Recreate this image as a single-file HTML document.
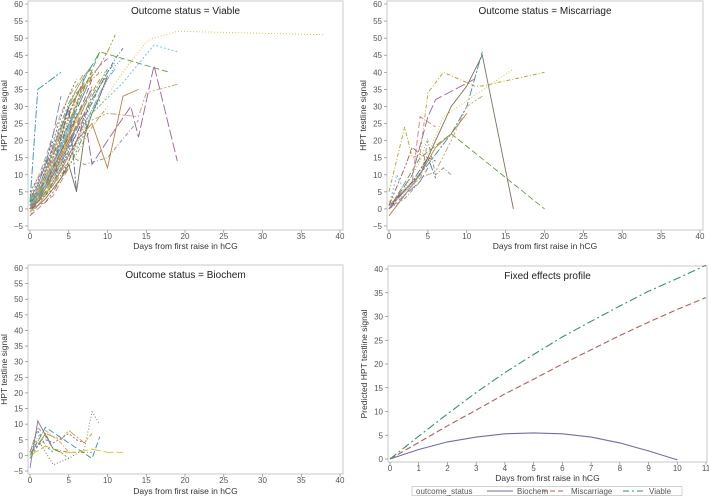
<!DOCTYPE html>
<html><head><meta charset="utf-8"><style>
body{margin:0;background:#fff;}
svg{display:block;font-family:"Liberation Sans",sans-serif;}
.tk{font-size:8px;fill:#555;}
.ttl{font-size:10px;fill:#222;}
.ax{font-size:8.5px;fill:#333;}
</style></head><body>
<svg id="c" width="709" height="496" viewBox="0 0 709 496"></svg>
<script>
// ---- data ----
const viableTrajX = [
 [0,1,2,3,4,5,6,7,8],[0,1,2,3,4,5,6,7],[0,1,2,3,4,5,6],[0,1,2,3,4,5,6,7,8,9],[0,1,2,3,4,5,6,7,8,9,10],
 [0,1,2,3,4,5,6,7,8],[0,1,2,3,4,5,6],[0,1,2,3,4,5,6,7,8,9,10,11],[0,1,2,3,4,5,6,7],[0,1,2,3,4,5,6,7,8,9,10],
 [0,1,2,3,4,5,6],[0,1,2,3,4,5,6,7],[0,1,2,3,4,5,6,7,8,9,10,11],[0,1,2,3,4,5,6],[0,1,2,3,4,5,6,7,8,9,10],
 [0,1,2,3,4,5,6,7,8,9,10,11,12],[0,1,2,3,4,5,6,7,8],[0,1,2,3,4,5,6],[0,1,2,3,4,5,6,7,8,9,10,11,12],[0,1,2,3,4,5,6,7,8],
 [0,1,2,3,4,5,6,7,8,9],[0,1,2,3,4,5,6,7,8,9,10,11],[0,1,2,3,4,5,6,7,8],[0,1,2,3,4,5,6,7,8,9,10],[0,1,2,3,4,5,6,7,8,9,10],
 [0,1,4],[0,1,2,4,9,12,15,16,19,38],[0,2,4,6,9,12,15,18],[0,2,4,7,8,10,13,14,16,19],[0,3,5,7,10,14,15,19],
 [0,3,6,8,12,16,19],[0,2,5,7,10,14],[0,3,6,8,10,12,14],[0,1,3,5,6],[0,2,4,6,8,10],
 [0,1,2,3,4,5],[0,1,2,3,4],[0,1,2,3,4,5,6,7],[0,1,2,3,4,5,6],[0,2,3,5,6,9],
 [0,1,2,3,4,5,6],[0,1,2,3,4,5],[0,1,2,3,4,5,6,7,8],[0,1,2,3,4,5,6,7],[0,1,2,3,4,5,6],
 [0,1,2,3,4,5,6,7,8,9],[0,1,2,3,4,5],[0,1,2,3,4,5,6,7],[0,1,2,3,4,5,6],[0,1,2,3,4,5,6,7,8]
];
const viableTrajY = [
 [0,3,7,12,17,22,27,31,35],[1,5,10,16,22,28,33,37],[2,6,11,15,20,26,30],[0,2,5,9,14,19,25,30,34,38],[-1,2,6,11,17,23,29,34,39,42,44],
 [1,4,9,14,20,25,31,36,40],[3,8,14,20,27,33,38],[0,3,6,10,13,18,22,27,32,36,40,43],[2,5,8,12,16,21,26,31],[1,3,7,10,15,20,24,28,33,37,41],
 [0,4,8,13,19,24,29],[4,9,15,22,28,33,36,40],[1,2,5,8,11,16,20,25,29,34,38,41],[0,5,12,19,25,31,35],[2,4,7,11,15,19,24,28,32,36,39],
 [-2,1,4,8,12,17,22,27,31,36,40,44,47],[1,6,11,17,23,30,35,39,42],[3,5,9,14,18,22,27],[0,2,4,7,10,14,19,24,29,33,38,42,44],[1,4,7,12,17,21,27,32,38],
 [2,7,13,18,24,30,33,38,42,46],[0,3,9,15,21,27,33,36,39,42,46,51],[5,9,12,16,20,25,30,39,41],[1,3,5,7,10,13,16,20,24,27,30],[0,1,3,6,9,13,5,21,28,33,39],
 [2,35,40],[1,5,10,20,30,40,49,50,52,51],[1,8,18,30,46,44,42,40],[0,6,14,28,13,20,30,21,42,14],[1,8,14,25,28,27,34,36.5],
 [2,9,18,28,37,48,46],[1,7,16,13,15,26],[0,7,20,25,12,33,35],[1,4,12,30,5],[2,10,20,30,40,40],
 [-2,0,2,4,8,12],[3,7,13,22,33],[0,1,2,5,9,14,20,26],[1,2,6,10,16,22,28],[0,7,12,20,34,40],
 [0,2,6,10,15,20,24],[1,3,6,11,16,23],[0,2,4,8,12,17,22,26,31],[2,4,9,13,19,25,29,34],[-1,1,4,9,14,21,26],
 [1,2,4,6,9,12,17,22,28,32],[0,6,11,18,24,29],[3,6,9,13,18,24,31,37],[1,4,8,13,18,24,29],[0,3,6,9,13,19,24,30,36]
];
const miscTrajX = [
 [0,2,3,4,5,7,11,12,20],[0,4,6,8,10,12,16],[0,5,8,10,12],[0,3,5,7,16],[0,4,8,20],
 [0,3,5,6,11],[0,2,4,6,8,10,12],[0,1,2,4],[0,2,4,5,6,7,8],[0,2,4,6,8,10],
 [0,1,3,5,6],[0,2,4,5],[0,3,4,6],[0,1,2,3,4,5],[0,2,3,4,6]
];
const miscTrajY = [
 [5,24,15,16,34,40,36,36,40],[1,10,20,30,36,45,0],[0,13,22,30,46],[1,6,16,27,41],[0,15,22,0],
 [0,10,27,32,38],[1,5,9,11,20,30,33],[1,10,5,10],[0,3,8,20,10,12,10],[-2,4,10,18,22,28],
 [0,3,8,15,9],[2,6,14,21],[0,8,27,24],[0,2,4,6,8,12],[1,12,18,16,14]
];
const bioTrajX = [
 [0,1,2,3],[0,1,2,3,5,8],[0,1,3,4],[0,2,4,5,7,8],[0,1,3,5,7,8,9],
 [0,2,5,8,9],[0,2,4,6,8,10,12],[0,1,2,3,4,5],[0,2,3,5,6,7],[0,1,2,4,5]
];
const bioTrajY = [
 [1,8,3,1],[1,9,6,2,1,1],[-4,11,2,1],[0,7,5,8,4,7],[1,5,-3,-1,2,14,10],
 [0,9,4,-1,6],[0,3,1,1,2,1,1],[-1,3,7,2,1,-1],[1,5,4,7,5,4],[1,6,8,4,1]
];
const profileDays = [0,1,2,3,4,5,6,7,8,9,10,11];
const biochemFit = [0,2,3.6,4.6,5.3,5.5,5.3,4.6,3.4,1.7,-0.2];
const miscFit = [0,3.5,7,10.3,13.7,16.8,20,23,26,28.8,31.5,34];
const viableFit = [0,4.8,9.5,14,18.2,22,25.7,29,32.2,35.3,38,40.8];
const spagYTicks = [-5,0,5,10,15,20,25,30,35,40,45,50,55,60];
const spagXTicks = [0,5,10,15,20,25,30,35,40];
const profYTicks = [0,5,10,15,20,25,30,35,40];
const profXTicks = [0,1,2,3,4,5,6,7,8,9,10,11];

const NS='http://www.w3.org/2000/svg';
const svg=document.getElementById('c');
function mk(tag,attrs,parent){const e=document.createElementNS(NS,tag);for(const k in attrs)e.setAttribute(k,attrs[k]);(parent||svg).appendChild(e);return e;}
const colors=['#6f7fbf','#b0544f','#3f9f7f','#c08a2a','#8d6fc1','#b8a02a','#7f6f5a','#2f8fbf','#d4c02a','#5f9f3f','#9f5f9f','#c4a070','#5fbfdf','#8f8f8f','#bf7f3f','#4f6f8f','#a0b040','#d08080'];
const dashes=['none','6,3','2,2','8,2,2,2','10,3','4,2,1,2','1,2','6,2,2,2,2,2'];

function panel(name,x0px,x1px,xmax,xmin,yTop,yBot,ymin,ymax,frame,xticks,yticks,title,xtitleY,ytitle,tickLabY){
  const g=mk('g',{});
  
  
  const sx=v=>x0px+(v-xmin)/(xmax-xmin)*(x1px-x0px);
  const sy=v=>yBot-(v-ymin)/(ymax-ymin)*(yBot-yTop);
  const r=mk('rect',{x:frame[0],y:frame[1],width:frame[2]-frame[0],height:frame[3]-frame[1],fill:'#fff',stroke:'#c8c8c8','stroke-width':1},g);
  
  yticks.forEach(t=>{const y=sy(t);
    mk('line',{x1:frame[0]-3,x2:frame[0],y1:y,y2:y,stroke:'#888','stroke-width':0.7},g);
    const tx=mk('text',{x:frame[0]-5,y:y+3,'text-anchor':'end',class:'tk'},g);tx.textContent=t<0?'\u2212'+(-t):t;
    });
  xticks.forEach(t=>{const x=sx(t);
    mk('line',{x1:x,x2:x,y1:frame[3],y2:frame[3]+3,stroke:'#888','stroke-width':0.7},g);
    const tx=mk('text',{x:x,y:tickLabY,'text-anchor':'middle',class:'tk'},g);tx.textContent=t;
    });
  const tt=mk('text',{x:(frame[0]+frame[2])/2,y:frame[1]+13,'text-anchor':'middle',class:'ttl'},g);tt.textContent=title;
  
  const xt=mk('text',{x:(frame[0]+frame[2])/2,y:xtitleY,'text-anchor':'middle',class:'ax'},g);xt.textContent='Days from first raise in hCG';
  
  const cy=(frame[1]+frame[3])/2;
  const yt=mk('text',{x:frame[0]-21,y:cy,'text-anchor':'middle',class:'ax',transform:`rotate(-90 ${frame[0]-21} ${cy})`},g);
  yt.textContent=ytitle;
  
  return {g,sx,sy};
}
function spag(p,X,Y,offs){
  X.forEach((xs,i)=>{
    const d=xs.map((x,j)=>(j?'L':'M')+p.sx(x).toFixed(1)+','+p.sy(Y[i][j]).toFixed(1)).join('');
    const pa=mk('path',{d,fill:'none',stroke:colors[(i+offs)%colors.length],'stroke-width':0.9,'stroke-dasharray':dashes[(i*3+offs)%dashes.length]},p.g);
    
    
  });
}
const pv=panel('panel-viable',30,340,40,0,4,226,-5,60,[28,1,343,230],spagXTicks,spagYTicks,'Outcome status = Viable',249,'HPT testline signal',239);
spag(pv,viableTrajX,viableTrajY,0);
const pm=panel('panel-miscarriage',389,700,40,0,4,226,-5,60,[387,1,703,230],spagXTicks,spagYTicks,'Outcome status = Miscarriage',249,'HPT testline signal',239);
spag(pm,miscTrajX,miscTrajY,5);
const pb=panel('panel-biochem',30,340,40,0,268,471,-5,60,[28,265,343,474],spagXTicks,spagYTicks,'Outcome status = Biochem',494,'HPT testline signal',483);
spag(pb,bioTrajX,bioTrajY,2);
const pf=panel('panel-fixed-effects',390,706,11,0,269,459,0,40,[388,266,707,462],profXTicks,profYTicks,'Fixed effects profile',481,'Predicted HPT testline signal',471);
[[biochemFit,'#6f6fa8','none','biochem-fit-line'],[miscFit,'#b0605a','6,3','miscarriage-fit-line'],[viableFit,'#3f8f6f','8,3,2,3','viable-fit-line']].forEach(s=>{
  const d=s[0].map((v,j)=>(j?'L':'M')+pf.sx(profileDays[j]).toFixed(1)+','+pf.sy(v).toFixed(1)).join('');
  const pa=mk('path',{d,fill:'none',stroke:s[1],'stroke-width':1.1,'stroke-dasharray':s[2]},pf.g);
  
  
});
// legend
const lg=mk('g',{});


mk('rect',{x:412,y:486.5,width:270,height:9,fill:'#fff',stroke:'#c8c8c8','stroke-width':0.8},lg);
const lt=mk('text',{x:416,y:494,class:'tk',fill:'#333'},lg);lt.textContent='outcome_status';

[[487,513,517,'Biochem','#6f6fa8','none'],[542,565,571,'Miscarriage','#b0605a','5,3'],[623,643,649,'Viable','#3f8f6f','6,3,2,3']].forEach(e=>{
  const le=mk('g',{},lg);
  
  
  mk('line',{x1:e[0],x2:e[1],y1:491,y2:491,stroke:e[4],'stroke-width':1,'stroke-dasharray':e[5]},le);
  const t=mk('text',{x:e[2],y:494,class:'tk'},le);t.textContent=e[3];
});
</script>
</body></html>
